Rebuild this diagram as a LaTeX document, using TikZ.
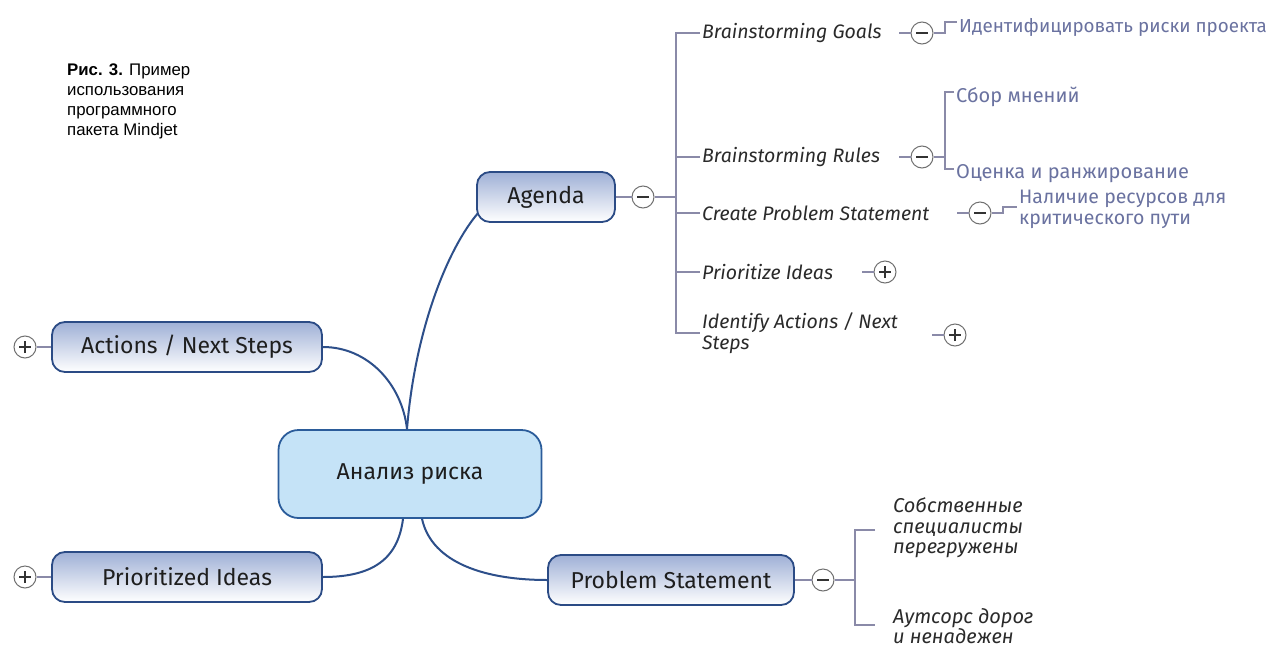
\documentclass[tikz,border=0pt]{standalone}
\usepackage{fontspec}
\setmainfont{Fira Sans}
\newfontfamily\capfont{Liberation Sans}
\usetikzlibrary{calc}

\definecolor{boxline}{HTML}{2B4B85}
\definecolor{boxtop}{HTML}{9FB0D6}
\definecolor{rootline}{HTML}{2B5C9A}
\definecolor{rootfill}{HTML}{C5E3F7}
\definecolor{limbcol}{HTML}{2D4F8A}
\definecolor{twigcol}{HTML}{8A8AA8}
\definecolor{knobline}{HTML}{707070}
\definecolor{signcol}{HTML}{333333}
\definecolor{ink}{HTML}{1E1E1E}
\definecolor{ink2}{HTML}{2A2A2A}
\definecolor{notecol}{HTML}{6A72A0}

\tikzset{
  branch/.style={draw=boxline, line width=1.8pt, rounded corners=13pt,
    top color=boxtop, bottom color=white, minimum height=50pt,
    font=\fontsize{23}{27}\selectfont, text=ink, inner sep=0pt},
  root/.style={draw=rootline, line width=1.8pt, rounded corners=20pt,
    fill=rootfill, minimum width=263pt, minimum height=88pt,
    font=\fontsize{23}{27}\selectfont, text=ink},
  knob/.style={circle, draw=knobline, line width=1pt, fill=white,
    minimum size=22pt, inner sep=0pt},
  knobminus/.style={knob, path picture={
    \draw[line width=1.2pt, signcol]
      ([xshift=-6pt]path picture bounding box.center) --
      ([xshift=6pt]path picture bounding box.center);}},
  knobplus/.style={knob, path picture={
    \draw[line width=1.2pt, signcol]
      ([xshift=-6pt]path picture bounding box.center) --
      ([xshift=6pt]path picture bounding box.center)
      ([yshift=-6pt]path picture bounding box.center) --
      ([yshift=6pt]path picture bounding box.center);}},
  topic/.style={anchor=west, inner sep=2pt, align=left, text=ink2,
    font=\itshape\fontsize{19.5}{21}\selectfont},
  note/.style={anchor=west, inner sep=2pt, align=left, text=notecol,
    font=\fontsize{20}{22}\selectfont},
  twig/.style={draw=twigcol, line width=1.2pt},
  limb/.style={draw=limbcol, line width=2pt},
}

\begin{document}
\begin{tikzpicture}[x=1pt, y=-1pt]
  \fill[white] (0,0) rectangle (1277,648);
  \useasboundingbox (0,0) rectangle (1277,648);

  % caption
  \node[anchor=north west, align=left, inner sep=0pt,
        font=\capfont\fontsize{16.8}{20}\selectfont] (caption) at (67,64)
    {\textbf{Рис. 3.} Пример\\использования\\программного\\пакета Mindjet};

  % central topic and main branches
  \node[root] (risk) at (410,474) {Анализ риска};
  \node[branch, minimum width=138pt] (agenda) at (546,197) {Agenda};
  \node[branch, minimum width=270pt] (actions) at (187,347) {Actions / Next Steps};
  \node[branch, minimum width=270pt] (ideas) at (187,577) {Prioritized Ideas};
  \node[branch, minimum width=246pt] (problem) at (671,580) {Problem Statement};

  % expand / collapse buttons of the main branches
  \node[knobminus] (kAgenda) at (643,197) {};
  \node[knobplus] (kActions) at (25,347) {};
  \node[knobplus] (kIdeas) at (25,577) {};
  \node[knobminus] (kProblem) at (823,580) {};

  % agenda subtopics
  \node[topic] (goals) at (700,33) {Brainstorming Goals};
  \node[topic] (rules) at (700,157) {Brainstorming Rules};
  \node[topic] (create) at (700,213) {Create Problem Statement};
  \node[topic] (prio) at (700,272) {Prioritize Ideas};
  \node[topic] (ident) at (700,333) {Identify Actions / Next\\Steps};

  \node[knobminus] (kGoals) at (922,33) {};
  \node[knobminus] (kRules) at (922,157) {};
  \node[knobminus] (kCreate) at (980,213) {};
  \node[knobplus] (kPrio) at (885,272) {};
  \node[knobplus] (kIdent) at (955,335) {};

  % notes
  \node[note, font=\fontsize{18.8}{22}\selectfont] (n1) at (957,27)
    {Идентифицировать риски проекта};
  \node[note] (n2) at (954,97) {Сбор мнений};
  \node[note] (n3) at (954,174) {Оценка и ранжирование};
  \node[note, font=\fontsize{19.5}{21}\selectfont] (n4) at (1017,209)
    {Наличие ресурсов для\\критического пути};
  \node[topic, font=\itshape\fontsize{20}{20.5}\selectfont] (own) at (891,528)
    {Собственные\\специалисты\\перегружены};
  \node[topic, inner ysep=0pt, font=\itshape\fontsize{20}{19}\selectfont] (out)
    at (891,626) {Аутсорс дорог\\и ненадежен};

  % curved main connectors
  \coordinate (rTop) at ([xshift=-3pt]risk.north);
  \coordinate (rBotL) at ([xshift=-7pt]risk.south);
  \coordinate (rBotR) at ([xshift=12pt]risk.south);
  \coordinate (agIn) at ([xshift=2pt,yshift=-16pt]agenda.west);
  \draw[limb] (rTop) .. controls +(8,-100) and +(-30,35) .. (agIn);
  \draw[limb] (actions.east) .. controls +(45,0) and +(-5,-45) .. (rTop);
  \draw[limb] (ideas.east) .. controls +(50,0) and +(-5,40) .. (rBotL);
  \draw[limb] (rBotR) .. controls +(10,45) and +(-60,0) .. (problem.west);

  % thin connectors
  \draw[twig] (kActions) -- (actions);
  \draw[twig] (kIdeas) -- (ideas);
  \draw[twig] (agenda) -- (kAgenda);
  \draw[twig] (problem) -- (kProblem);

  \coordinate (trunk) at (676,197);
  \draw[twig] (kAgenda) -- (trunk);
  \draw[twig] (goals.west) -| (trunk) |- (ident.west);
  \draw[twig] (rules.west) -- (rules.west -| trunk);
  \draw[twig] (create.west) -- (create.west -| trunk);
  \draw[twig] (prio.west) -- (prio.west -| trunk);

  \draw[twig] (kGoals.west) -- ++(-12,0);
  \draw[twig] (kRules.west) -- ++(-12,0);
  \draw[twig] (kCreate.west) -- ++(-12,0);
  \draw[twig] (kPrio.west) -- ++(-12,0);
  \draw[twig] (kIdent.west) -- ++(-12,0);

  \coordinate (bGoals) at (945,33);
  \draw[twig] (kGoals) -- (bGoals) |- ([yshift=5pt]n1.west);
  \coordinate (bRules) at (945,157);
  \draw[twig] (kRules) -- (bRules);
  \draw[twig] ([yshift=5pt]n2.west) -| (bRules) |- ([yshift=5pt]n3.west);
  \coordinate (bCreate) at (1003,213);
  \draw[twig] (kCreate) -- (bCreate) |- ([yshift=2pt]n4.west);
  \coordinate (bProb) at (855,580);
  \draw[twig] (kProblem) -- (bProb);
  \draw[twig] ([xshift=-16pt,yshift=-2pt]own.west) -| (bProb)
    |- ([xshift=-16pt,yshift=1pt]out.west);
\end{tikzpicture}
\end{document}
